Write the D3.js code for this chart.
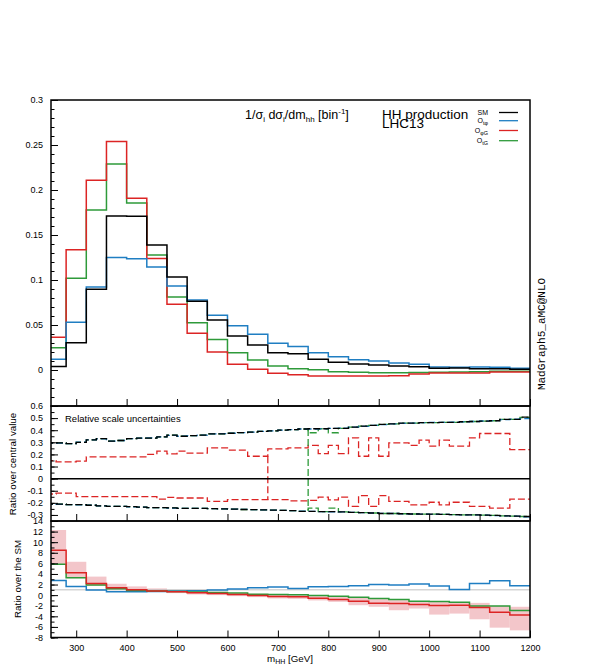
<!DOCTYPE html>
<html>
<head>
<meta charset="utf-8">
<title>HH production LHC13</title>
<style>
  body { margin: 0; background: #fff; }
  text { font-family: "Liberation Sans", Arial, sans-serif; fill: #000; }
  .tick line { stroke: #000; stroke-width: 1; }
  .tick text { font-size: 9px; }
</style>
</head>
<body>
<script src="https://cdn.jsdelivr.net/npm/d3@7/dist/d3.min.js"></script>
<script>
// bin edges (GeV)
var edges40 = [240,280,320,360,400,440,480,520,560,600,640,680,720,760,800,840,880,920,960,1000,1040,1080,1120,1160,1200];
var edges20 = [240,260,280,300,320,340,360,380,400,420,440,460,480,500,520,540,560,580,600,620,640,660,680,700,
               720,740,760,780,800,820,840,860,880,900,920,940,960,980,1000,1020,1040,1060,1080,1100,1120,1140,1160,1180,1200];

// 1/sigma dsigma/dm_hh, per 40 GeV bin
var distSM  = [0.004,0.0304,0.0896,0.171,0.1707,0.139,0.1033,0.0763,0.0556,0.0378,0.0278,0.0193,0.018,0.0119,0.0085,0.0067,0.0056,0.0044,0.0037,0.0019,0.0022,0.0015,0.0015,0.0007];
var distTphi = [0.0119,0.053,0.0922,0.125,0.1237,0.1144,0.0933,0.0778,0.0607,0.0493,0.0396,0.0298,0.026,0.0193,0.0148,0.0115,0.01,0.0078,0.0063,0.0033,0.003,0.0033,0.003,0.0019];
var distPhiG = [0.0363,0.1337,0.2107,0.254,0.1907,0.124,0.073,0.0407,0.02,0.0063,0.0007,-0.0037,-0.0052,-0.0067,-0.0067,-0.0067,-0.0067,-0.0063,-0.0044,-0.0033,-0.0033,-0.0033,-0.0022,-0.0022];
var distTG  = [0.0248,0.1019,0.1778,0.229,0.1856,0.1278,0.0811,0.0526,0.034,0.0193,0.0111,0.0044,0.0015,0.0004,-0.0019,-0.0026,-0.003,-0.003,-0.0028,-0.0026,-0.0022,-0.0019,-0.0015,-0.0015];

// relative scale uncertainties, per 20 GeV bin
var scaleUpSM = [0.296,0.296,0.29,0.3,0.32,0.33,0.31,0.315,0.33,0.335,0.335,0.345,0.36,0.35,0.355,0.36,0.37,0.37,0.375,0.38,0.385,0.39,0.395,0.4,
                 0.405,0.41,0.412,0.412,0.415,0.415,0.426,0.434,0.44,0.448,0.452,0.459,0.459,0.462,0.462,0.465,0.465,0.47,0.472,0.475,0.478,0.49,0.49,0.508];
var scaleDnSM = [-0.21,-0.21,-0.215,-0.215,-0.22,-0.225,-0.23,-0.23,-0.232,-0.235,-0.24,-0.24,-0.242,-0.245,-0.245,-0.245,-0.248,-0.25,-0.252,-0.255,-0.256,-0.258,-0.26,-0.262,
                 -0.265,-0.27,-0.271,-0.272,-0.273,-0.275,-0.279,-0.28,-0.284,-0.288,-0.288,-0.29,-0.292,-0.293,-0.294,-0.296,-0.298,-0.299,-0.3,-0.302,-0.304,-0.307,-0.31,-0.313];
var scaleUpTphi = [0.294,0.294,0.29,0.302,0.32,0.328,0.31,0.315,0.33,0.335,0.337,0.345,0.358,0.35,0.355,0.36,0.37,0.372,0.375,0.38,0.385,0.39,0.395,0.4,
                   0.405,0.41,0.41,0.412,0.415,0.417,0.426,0.432,0.44,0.446,0.452,0.457,0.459,0.462,0.464,0.465,0.467,0.47,0.472,0.476,0.48,0.488,0.492,0.496];
var scaleDnTphi = [-0.21,-0.212,-0.215,-0.216,-0.22,-0.225,-0.229,-0.23,-0.233,-0.235,-0.239,-0.24,-0.243,-0.245,-0.245,-0.246,-0.248,-0.25,-0.252,-0.254,-0.256,-0.258,-0.26,-0.262,
                   -0.265,-0.269,-0.271,-0.272,-0.274,-0.275,-0.278,-0.28,-0.284,-0.287,-0.288,-0.29,-0.292,-0.293,-0.295,-0.296,-0.298,-0.3,-0.3,-0.302,-0.305,-0.307,-0.31,-0.315];
var scaleUpPhiG = [0.149,0.138,0.138,0.144,0.18,0.18,0.18,0.18,0.18,0.18,0.2,0.227,0.205,0.227,0.21,0.21,0.254,0.254,0.235,0.235,0.185,0.185,0.246,0.246,
                   0.254,0.254,0.274,0.207,0.274,0.207,0.337,0.185,0.337,0.185,0.296,0.296,0.274,0.318,0.268,0.318,0.268,0.268,0.337,0.373,0.373,0.373,0.24,0.24];
var scaleDnPhiG = [-0.127,-0.119,-0.119,-0.149,-0.149,-0.149,-0.149,-0.149,-0.149,-0.149,-0.149,-0.169,-0.155,-0.16,-0.16,-0.16,-0.188,-0.188,-0.174,-0.174,-0.174,-0.174,-0.174,-0.174,
                   -0.183,-0.183,-0.18,-0.152,-0.175,-0.152,-0.23,-0.141,-0.23,-0.141,-0.188,-0.188,-0.216,-0.216,-0.195,-0.216,-0.195,-0.195,-0.23,-0.23,-0.243,-0.243,-0.169,-0.169];
var scaleUpTG = [0.296,0.296,0.29,0.3,0.32,0.33,0.31,0.315,0.33,0.335,0.335,0.345,0.36,0.35,0.355,0.36,0.37,0.37,0.375,0.38,0.385,0.39,0.395,0.4,
                 0.405,0.41,0.379,0.412,0.379,0.415,0.426,0.434,0.44,0.448,0.452,0.459,0.459,0.462,0.462,0.465,0.465,0.47,0.472,0.475,0.478,0.49,0.49,0.505];
var scaleDnTG = [-0.21,-0.21,-0.215,-0.215,-0.22,-0.225,-0.23,-0.23,-0.232,-0.235,-0.24,-0.24,-0.242,-0.245,-0.245,-0.245,-0.248,-0.25,-0.252,-0.255,-0.256,-0.258,-0.26,-0.262,
                 -0.265,-0.27,-0.243,-0.272,-0.243,-0.275,-0.279,-0.28,-0.284,-0.288,-0.288,-0.29,-0.292,-0.293,-0.294,-0.296,-0.298,-0.299,-0.3,-0.302,-0.304,-0.307,-0.31,-0.313];
// isolated vertical connectors in the dashed curves [GeV, from, to]
var jumpPhiG = [680, 0.185, -0.174];
var jumpTG = [760, 0.41, -0.265];

// ratio over the SM, per 40 GeV bin
var ratioTphi = [2.78,1.65,0.95,0.63,0.63,0.7,0.76,0.82,0.95,1.14,1.4,1.52,1.27,1.58,1.65,1.77,2.03,1.9,2.09,1.71,1.08,2.2,2.7,1.77];
var ratioPhiG = [8.48,4.24,2.2,1.39,1.0,0.76,0.63,0.44,0.32,0.13,-0.06,-0.25,-0.3,-0.57,-0.82,-1.14,-1.52,-1.58,-1.77,-1.96,-1.9,-2.34,-3.23,-3.73];
var ratioTG   = [5.82,3.29,1.9,1.2,0.89,0.76,0.7,0.57,0.5,0.38,0.19,0.1,0.05,-0.05,-0.19,-0.38,-0.63,-0.82,-1.14,-1.2,-1.33,-2.03,-2.03,-2.9];
var bandUpPhiG = [12.3,6.3,3.5,2.15,1.65,1.27,0.9,0.7,0.63,0.44,0.25,0.13,0,-0.19,-0.32,-0.5,-0.76,-0.95,-1.14,-1.27,-1.39,-1.46,-2.03,-2.2];
var bandDnPhiG = [5.8,3.2,1.8,1.1,0.76,0.63,0.38,0.13,0,-0.19,-0.38,-0.63,-0.7,-1.0,-1.27,-1.9,-2.2,-2.85,-2.53,-3.67,-3.48,-4.56,-6.14,-6.65];

// tick labels
var xTicks = [300,400,500,600,700,800,900,1000,1100,1200];
var topTicks = [0,0.05,0.1,0.15,0.2,0.25,0.3];
var midTicks = [-0.3,-0.2,-0.1,0,0.1,0.2,0.3,0.4,0.5,0.6];
var botTicks = [-8,-6,-4,-2,0,2,4,6,8,10,12,14];

var colSM = "#000000", colTphi = "#1f7ec2", colPhiG = "#dc2424", colTG = "#2e9a3a";

var width = 592, height = 664;
var svg = d3.select("body").append("svg").attr("width", width).attr("height", height);

var x = d3.scaleLinear().domain([250, 1200]).range([51, 530]);
var yTop = d3.scaleLinear().domain([-0.04, 0.3]).range([406, 100]);
var yMid = d3.scaleLinear().domain([-0.35, 0.6]).range([521, 406]);
var yBot = d3.scaleLinear().domain([-8, 14]).range([637.5, 521]);

svg.append("clipPath").attr("id", "clip")
  .append("rect").attr("x", 51).attr("y", 0).attr("width", 479).attr("height", height);

function steps(edges, vals) {
  var pts = [];
  vals.forEach(function(v, i) { pts.push([edges[i], v]); pts.push([edges[i + 1], v]); });
  return pts;
}
function drawSteps(g, y, edges, vals, color, w, dash) {
  var line = d3.line().x(function(d) { return x(d[0]); }).y(function(d) { return y(d[1]); });
  var p = g.append("path").attr("d", line(steps(edges, vals)))
    .attr("fill", "none").attr("stroke", color).attr("stroke-width", w);
  if (dash) p.attr("stroke-dasharray", dash);
  return p;
}

function yAxis(scale, majors, minors) {
  svg.append("g").attr("transform", "translate(51,0)")
    .call(d3.axisLeft(scale).tickValues(minors).tickSize(-3.5).tickFormat(""))
    .call(function(g) { g.select(".domain").remove(); });
  svg.append("g").attr("transform", "translate(51,0)")
    .call(d3.axisLeft(scale).tickValues(majors).tickSize(-7).tickPadding(8).tickFormat(String))
    .call(function(g) { g.select(".domain").remove(); });
}
function xAxis(yPos, labels) {
  svg.append("g").attr("transform", "translate(0," + yPos + ")")
    .call(d3.axisBottom(x).tickValues(xTicks).tickSize(-7).tickPadding(7).tickFormat(labels ? String : ""))
    .call(function(g) { g.select(".domain").remove(); });
}

// ---- top panel
var gTop = svg.append("g").attr("clip-path", "url(#clip)");
drawSteps(gTop, yTop, edges40, distTG, colTG, 1.5);
drawSteps(gTop, yTop, edges40, distPhiG, colPhiG, 1.5);
drawSteps(gTop, yTop, edges40, distTphi, colTphi, 1.5);
drawSteps(gTop, yTop, edges40, distSM, colSM, 1.5);

// ---- middle panel
var gMid = svg.append("g").attr("clip-path", "url(#clip)");
svg.append("line").attr("x1", 51).attr("x2", 530).attr("y1", yMid(0)).attr("y2", yMid(0))
  .attr("stroke", "#000").attr("stroke-width", 1.5);
var dash = "7,3";
[[scaleUpPhiG, scaleDnPhiG, colPhiG, jumpPhiG], [scaleUpTG, scaleDnTG, colTG, jumpTG],
 [scaleUpTphi, scaleDnTphi, colTphi, null], [scaleUpSM, scaleDnSM, colSM, null]].forEach(function(s) {
  drawSteps(gMid, yMid, edges20, s[0], s[2], 1.3, dash);
  drawSteps(gMid, yMid, edges20, s[1], s[2], 1.3, dash);
  if (s[3]) {
    gMid.append("line").attr("x1", x(s[3][0])).attr("x2", x(s[3][0]))
      .attr("y1", yMid(s[3][1])).attr("y2", yMid(s[3][2]))
      .attr("stroke", s[2]).attr("stroke-width", 1.3).attr("stroke-dasharray", dash);
  }
});
svg.append("text").attr("x", 65).attr("y", 422).style("font-size", "9.5px").text("Relative scale uncertainties");

// ---- bottom panel
var gBot = svg.append("g").attr("clip-path", "url(#clip)");
gBot.selectAll("rect.band").data(bandUpPhiG).enter().append("rect")
  .attr("x", function(d, i) { return x(edges40[i]); })
  .attr("width", function(d, i) { return x(edges40[i + 1]) - x(edges40[i]); })
  .attr("y", function(d) { return yBot(d); })
  .attr("height", function(d, i) { return yBot(bandDnPhiG[i]) - yBot(d); })
  .attr("fill", "#f3c6ca");
gBot.append("line").attr("x1", 51).attr("x2", 530).attr("y1", yBot(1)).attr("y2", yBot(1))
  .attr("stroke", "#c0c0c0").attr("stroke-width", 1);
drawSteps(gBot, yBot, edges40, ratioTphi, colTphi, 1.5);
drawSteps(gBot, yBot, edges40, ratioTG, colTG, 1.5);
drawSteps(gBot, yBot, edges40, ratioPhiG, colPhiG, 1.5);

// ---- axes and frames
yAxis(yTop, topTicks, d3.range(-0.04, 0.3001, 0.01));
yAxis(yMid, midTicks, d3.range(-0.35, 0.6001, 0.05));
yAxis(yBot, botTicks, d3.range(-8, 14.001, 1));
xAxis(406, false);
xAxis(521, false);
xAxis(637.5, true);
[[100, 406], [406, 521], [521, 637.5]].forEach(function(p) {
  svg.append("rect").attr("x", 51).attr("y", p[0]).attr("width", 479).attr("height", p[1] - p[0])
    .attr("fill", "none").attr("stroke", "#000").attr("stroke-width", 1.5);
});

// ---- texts
var t1 = svg.append("text").attr("x", 245).attr("y", 118.5).style("font-size", "12.5px");
t1.append("tspan").text("1/σ");
t1.append("tspan").attr("dy", 3).style("font-size", "8px").text("i");
t1.append("tspan").attr("dy", -3).text(" dσ");
t1.append("tspan").attr("dy", 3).style("font-size", "8px").text("i");
t1.append("tspan").attr("dy", -3).text("/dm");
t1.append("tspan").attr("dy", 3).style("font-size", "8px").text("hh");
t1.append("tspan").attr("dy", -3).text(" [bin");
t1.append("tspan").attr("dy", -5).style("font-size", "8px").text("-1");
t1.append("tspan").attr("dy", 5).text("]");

svg.append("text").attr("x", 382).attr("y", 118.5).style("font-size", "13.5px").text("HH production");
svg.append("text").attr("x", 382).attr("y", 127.5).style("font-size", "13.5px").text("LHC13");

var legend = [["SM", "", colSM, 112.5], ["O", "tφ", colTphi, 120.7], ["O", "φG", colPhiG, 130.5], ["O", "tG", colTG, 140.7]];
legend.forEach(function(l) {
  var t = svg.append("text").attr("x", 488).attr("y", l[3] + 2).attr("text-anchor", "end").style("font-size", "7px");
  t.append("tspan").text(l[0]);
  if (l[1]) t.append("tspan").attr("dy", 2).style("font-size", "5.5px").text(l[1]);
  svg.append("line").attr("x1", 499).attr("x2", 518).attr("y1", l[3]).attr("y2", l[3])
    .attr("stroke", l[2]).attr("stroke-width", 1.3);
});

svg.append("text").attr("transform", "translate(545,334) rotate(-90)").attr("text-anchor", "middle")
  .style("font-family", "'Liberation Mono', monospace").style("font-size", "11px").text("MadGraph5_aMC@NLO");

svg.append("text").attr("transform", "translate(15.5,464) rotate(-90)").attr("text-anchor", "middle")
  .style("font-size", "9.75px").text("Ratio over central value");
svg.append("text").attr("transform", "translate(21,579) rotate(-90)").attr("text-anchor", "middle")
  .style("font-size", "9.75px").text("Ratio over the SM");

var xl = svg.append("text").attr("x", 290).attr("y", 662).attr("text-anchor", "middle").style("font-size", "9.75px");
xl.append("tspan").text("m");
xl.append("tspan").attr("dy", 2).style("font-size", "7px").text("HH");
xl.append("tspan").attr("dy", -2).text(" [GeV]");
</script>
</body>
</html>
